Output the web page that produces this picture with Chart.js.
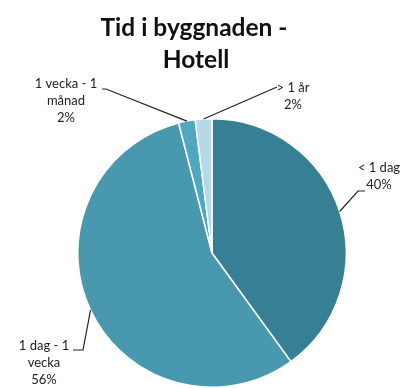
<!DOCTYPE html>
<html>
<head>
<meta charset="utf-8">
<script src="https://cdn.jsdelivr.net/npm/chart.js@4/dist/chart.umd.min.js"></script>
<style>
  body { margin: 0; background: #fff; }
</style>
</head>
<body>
<canvas id="pie" width="412" height="388"></canvas>
<script>
// Tid i byggnaden - Hotell
const titleLines = ['Tid i byggnaden -', 'Hotell'];
const categories = ['< 1 dag', '1 dag - 1 vecka', '1 vecka - 1 månad', '> 1 år'];
const shares = [40, 56, 2, 2];
const colors = ['#377f94', '#4899b0', '#4ea8c1', '#b6d8e4'];

// where each label sits: text lines, text centre, and the leader's elbow
const labelLayout = [
  { lines: ['< 1 dag'], x: 379, y: 168, elbow: [358, 191], end: [365, 191] },
  { lines: ['1 dag - 1', 'vecka'], x: 44, y: 346, elbow: [83, 350], end: [73, 350] },
  { lines: ['1 vecka - 1', 'månad'], x: 66, y: 84, elbow: [106, 89], end: [102, 89] },
  { lines: ['> 1 år'], x: 293, y: 88, elbow: [277, 87], end: [277, 87] }
];

const labelFont = '13px Lato, "Open Sans", sans-serif';

const labelsPlugin = {
  id: 'pieLabels',
  afterDraw(chart) {
    const ctx = chart.ctx;
    const arcs = chart.getDatasetMeta(0).data;

    // title
    ctx.save();
    ctx.fillStyle = '#111';
    ctx.font = 'bold 24.5px Lato, "Open Sans", sans-serif';
    ctx.textAlign = 'center';
    ctx.textBaseline = 'alphabetic';
    ctx.fillText(titleLines[0], 194, 36);
    ctx.fillText(titleLines[1], 196, 68);
    ctx.restore();

    arcs.forEach((arc, i) => {
      const p = arc.getProps(['x', 'y', 'startAngle', 'endAngle', 'outerRadius'], true);
      const mid = (p.startAngle + p.endAngle) / 2;
      const ax = p.x + Math.cos(mid) * p.outerRadius;
      const ay = p.y + Math.sin(mid) * p.outerRadius;
      const lay = labelLayout[i];

      ctx.save();
      ctx.strokeStyle = '#222';
      ctx.lineWidth = 1.2;
      ctx.beginPath();
      ctx.moveTo(ax, ay);
      ctx.lineTo(lay.elbow[0], lay.elbow[1]);
      ctx.lineTo(lay.end[0], lay.end[1]);
      ctx.stroke();

      ctx.fillStyle = '#222';
      ctx.font = labelFont;
      ctx.textAlign = 'center';
      ctx.textBaseline = 'middle';
      const lines = lay.lines.concat([shares[i] + '%']);
      lines.forEach((t, k) => ctx.fillText(t, lay.x, lay.y + k * 17));
      ctx.restore();
    });
  }
};

new Chart(document.getElementById('pie'), {
  type: 'pie',
  data: {
    labels: categories,
    datasets: [{
      data: shares,
      backgroundColor: colors,
      borderColor: '#ffffff',
      borderWidth: 1.5
    }]
  },
  options: {
    responsive: false,
    animation: false,
    layout: { padding: { top: 118, left: 77, right: 65, bottom: 0 } },
    plugins: {
      legend: { display: false },
      tooltip: { enabled: false }
    }
  },
  plugins: [labelsPlugin]
});
</script>
</body>
</html>
